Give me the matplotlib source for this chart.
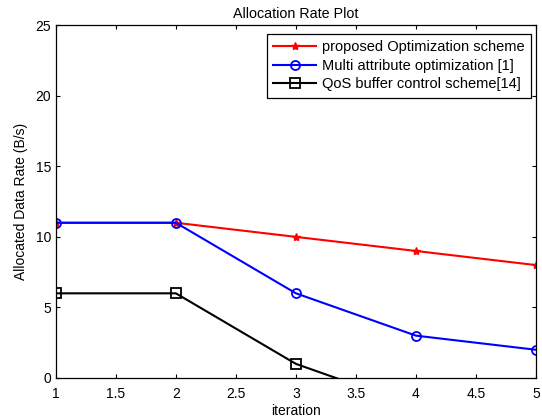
import matplotlib
matplotlib.use("Agg")
import matplotlib.pyplot as plt

plt.rcParams["font.family"] = ["Liberation Sans", "DejaVu Sans"]

# ── Data ──────────────────────────────────────────────────────────────────────
iteration = [1, 2, 3, 4, 5]
proposed = [11, 11, 10, 9, 8]
multi_attr = [11, 11, 6, 3, 2]
qos_buffer = [6, 6, 1, -2, -5]

labels = [
    "proposed Optimization scheme",
    "Multi attribute optimization [1]",
    "QoS buffer control scheme[14]",
]

# ── Figure ────────────────────────────────────────────────────────────────────
fig = plt.figure(figsize=(5.42, 4.18), dpi=100)
ax = fig.add_axes([0.103, 0.0957, 0.886, 0.844])

ax.plot(iteration, proposed, color="red", lw=1.5, marker="*", ms=6,
        mec="red", label=labels[0])
ax.plot(iteration, multi_attr, color="blue", lw=1.5, marker="o", ms=6.5,
        mfc="none", mec="blue", mew=1.3, label=labels[1])
ax.plot(iteration, qos_buffer, color="black", lw=1.5, marker="s", ms=6.5,
        mfc="none", mec="black", mew=1.3, label=labels[2])

ax.set_xlim(1, 5)
ax.set_ylim(0, 25)
ax.set_xticks([1, 1.5, 2, 2.5, 3, 3.5, 4, 4.5, 5])
ax.set_xticklabels(["1", "1.5", "2", "2.5", "3", "3.5", "4", "4.5", "5"])
ax.set_yticks([0, 5, 10, 15, 20, 25])
ax.tick_params(direction="in", top=True, right=True, labelsize=10,
               length=3, width=0.8)
ax.tick_params(axis="x", pad=6.5)
ax.tick_params(axis="y", pad=3.5)
for s in ax.spines.values():
    s.set_linewidth(0.9)

ax.set_xlabel("iteration", fontsize=10, labelpad=2)
ax.set_ylabel("Allocated Data Rate (B/s)", fontsize=10, labelpad=5)
ax.set_title("Allocation Rate Plot", fontsize=10.3, pad=5)

leg = ax.legend(loc="upper right", bbox_to_anchor=(0.9896, 0.976),
                fontsize=10.5, fancybox=False, edgecolor="black",
                framealpha=1, borderaxespad=0, handlelength=3.0,
                handletextpad=0.4, labelspacing=0.33, borderpad=0.42)
leg.get_frame().set_linewidth(0.9)

fig.savefig("out.png", dpi=100)
